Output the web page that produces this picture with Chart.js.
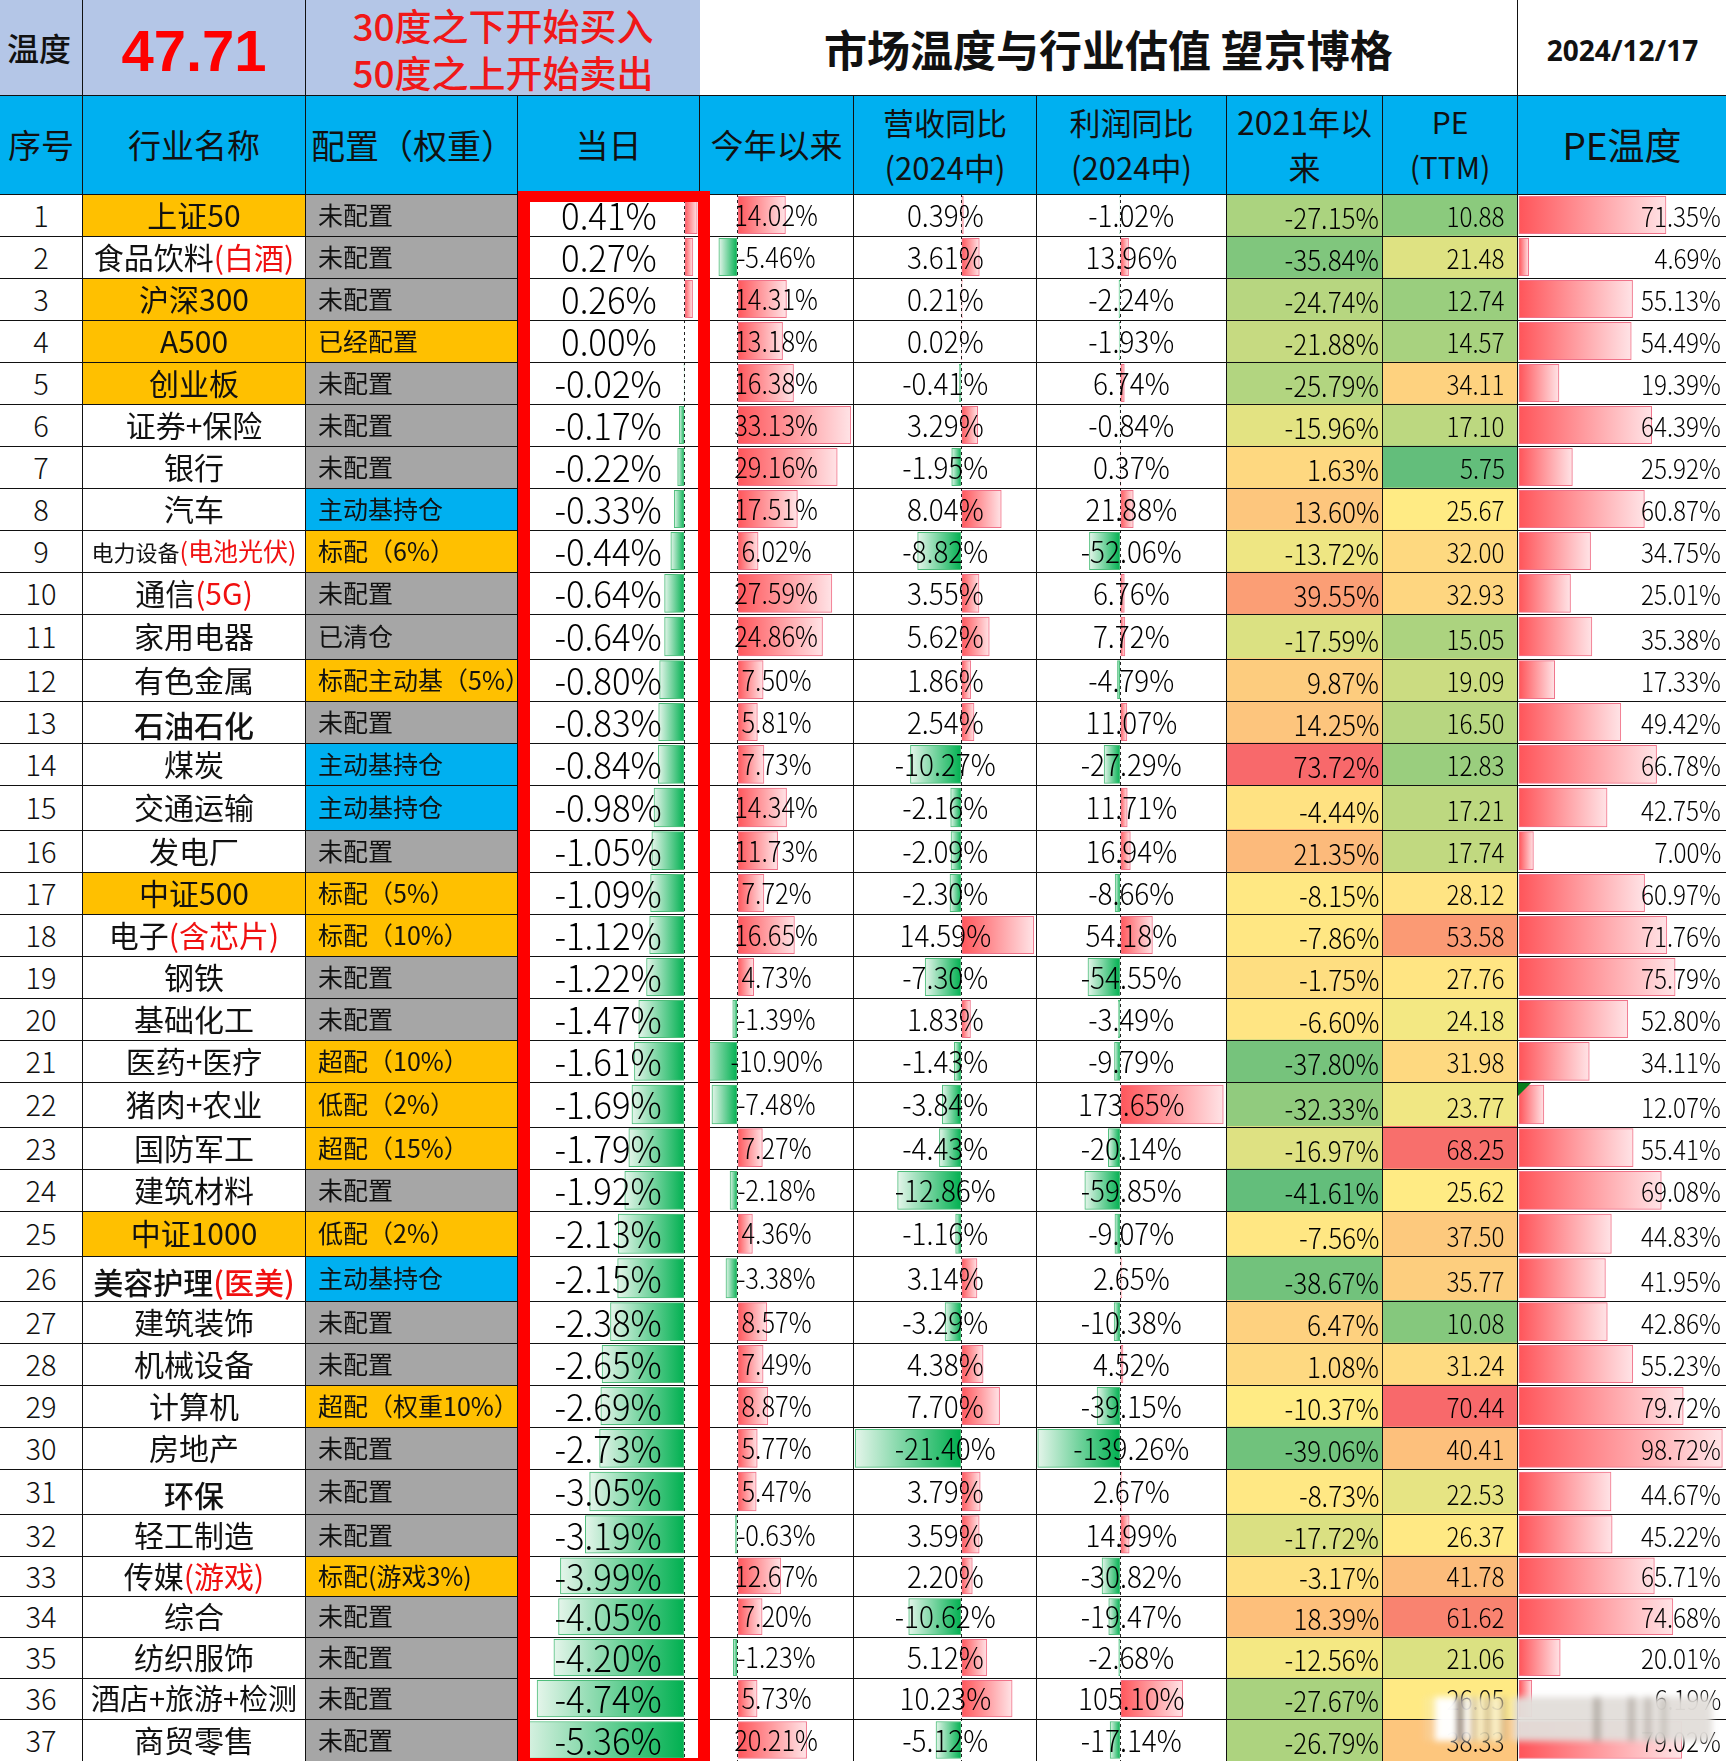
<!DOCTYPE html>
<html lang="zh"><head><meta charset="utf-8">
<script src="https://cdn.jsdelivr.net/npm/chart.js@4"></script>
<style>
html,body{margin:0;padding:0;background:#fff;width:1726px;height:1761px;overflow:hidden}
#sheet{position:relative;width:1726px;height:1761px;overflow:hidden;font-family:"Noto Sans CJK SC","Noto Sans",sans-serif;color:#111;font-weight:300}
canvas{position:absolute;z-index:1}
.c{position:absolute;z-index:2;box-sizing:border-box;display:flex;align-items:center;justify-content:center;white-space:nowrap;border-right:1px solid #111;border-bottom:1px solid #111;overflow:visible}
.num{color:#000}
.num span{display:inline-block}
.r span{transform-origin:right center}
.red{color:#f01010}
#frame{position:absolute;z-index:3;box-sizing:border-box;left:518px;top:191px;width:192px;height:1570px;border:solid #fe0000;border-width:11px 12px 3px 12px}
#mark{position:absolute;z-index:4;left:1424px;top:1697px;width:288px;height:44px;filter:blur(3px);
 background:
  linear-gradient(90deg,transparent 0 11px,rgba(255,255,255,.98) 11px 34px,rgba(60,40,30,.85) 34px 38px,rgba(255,255,255,.9) 38px 48px,rgba(150,120,70,.7) 48px 51px,rgba(250,240,200,.9) 51px 62px,rgba(150,120,70,.7) 62px 65px,rgba(250,240,200,.9) 65px 78px,rgba(150,120,70,.6) 78px 81px,transparent 81px),
  linear-gradient(90deg,transparent 0 170px,rgba(130,120,110,.55) 170px 176px,transparent 176px 205px,rgba(130,120,110,.5) 205px 210px,transparent 210px 222px,rgba(130,120,110,.5) 222px 226px,transparent 226px 238px,rgba(130,120,110,.4) 238px 242px,transparent 242px),
  linear-gradient(90deg,rgba(240,236,228,.2) 0 90px,rgba(226,222,218,.96) 90px 100%)}
#tri{position:absolute;z-index:3;left:1518px;top:1083px;width:0;height:0;border-top:13px solid #0a7d1e;border-right:13px solid transparent}
</style></head><body><div id="sheet"></div>
<script>
const rowNames=['上证50','食品饮料(白酒)','沪深300','A500','创业板','证券+保险','银行','汽车','电力设备(电池光伏)','通信(5G)','家用电器','有色金属','石油石化','煤炭','交通运输','发电厂','中证500','电子(含芯片)','钢铁','基础化工','医药+医疗','猪肉+农业','国防军工','建筑材料','中证1000','美容护理(医美)','建筑装饰','机械设备','计算机','房地产','环保','轻工制造','传媒(游戏)','综合','纺织服饰','酒店+旅游+检测','商贸零售'];
const allocation=['未配置','未配置','未配置','已经配置','未配置','未配置','未配置','主动基持仓','标配（6%）','未配置','已清仓','标配主动基（5%）','未配置','主动基持仓','主动基持仓','未配置','标配（5%）','标配（10%）','未配置','未配置','超配（10%）','低配（2%）','超配（15%）','未配置','低配（2%）','主动基持仓','未配置','未配置','超配（权重10%）','未配置','未配置','未配置','标配(游戏3%)','未配置','未配置','未配置','未配置'];
const indexFunds=['上证50','沪深300','A500','创业板','中证500','中证1000'];
const dayChange=[0.41,0.27,0.26,0.00,-0.02,-0.17,-0.22,-0.33,-0.44,-0.64,-0.64,-0.80,-0.83,-0.84,-0.98,-1.05,-1.09,-1.12,-1.22,-1.47,-1.61,-1.69,-1.79,-1.92,-2.13,-2.15,-2.38,-2.65,-2.69,-2.73,-3.05,-3.19,-3.99,-4.05,-4.20,-4.74,-5.36];
const ytdChange=[14.02,-5.46,14.31,13.18,16.38,33.13,29.16,17.51,6.02,27.59,24.86,7.50,5.81,7.73,14.34,11.73,7.72,16.65,4.73,-1.39,-10.90,-7.48,7.27,-2.18,4.36,-3.38,8.57,7.49,8.87,5.77,5.47,-0.63,12.67,7.20,-1.23,5.73,20.21];
const revenueYoY=[0.39,3.61,0.21,0.02,-0.41,3.29,-1.95,8.04,-8.82,3.55,5.62,1.86,2.54,-10.27,-2.16,-2.09,-2.30,14.59,-7.30,1.83,-1.43,-3.84,-4.43,-12.86,-1.16,3.14,-3.29,4.38,7.70,-21.40,3.79,3.59,2.20,-10.62,5.12,10.23,-5.12];
const profitYoY=[-1.02,13.96,-2.24,-1.93,6.74,-0.84,0.37,21.88,-52.06,6.76,7.72,-4.79,11.07,-27.29,11.71,16.94,-8.66,54.18,-54.55,-3.49,-9.79,173.65,-20.14,-59.85,-9.07,2.65,-10.38,4.52,-39.15,-139.26,2.67,14.99,-30.82,-19.47,-2.68,105.10,-17.14];
const since2021=[-27.15,-35.84,-24.74,-21.88,-25.79,-15.96,1.63,13.60,-13.72,39.55,-17.59,9.87,14.25,73.72,-4.44,21.35,-8.15,-7.86,-1.75,-6.60,-37.80,-32.33,-16.97,-41.61,-7.56,-38.67,6.47,1.08,-10.37,-39.06,-8.73,-17.72,-3.17,18.39,-12.56,-27.67,-26.79];
const peTTM=[10.88,21.48,12.74,14.57,34.11,17.10,5.75,25.67,32.00,32.93,15.05,19.09,16.50,12.83,17.21,17.74,28.12,53.58,27.76,24.18,31.98,23.77,68.25,25.62,37.50,35.77,10.08,31.24,70.44,40.41,22.53,26.37,41.78,61.62,21.06,26.05,38.33];
const peTemp=[71.35,4.69,55.13,54.49,19.39,64.39,25.92,60.87,34.75,25.01,35.38,17.33,49.42,66.78,42.75,7.00,60.97,71.76,75.79,52.80,34.11,12.07,55.41,69.08,44.83,41.95,42.86,55.23,79.72,98.72,44.67,45.22,65.71,74.68,20.01,6.19,79.02];
const tempValue='47.71', titleText='市场温度与行业估值 望京博格', dateText='2024/12/17';

// sheet layout (not data): column and row edges of the spreadsheet
const colEdges=[0,82,305,517,699,853,1036,1226,1382,1517,1726];
const rowEdges=[194,236,278,320,362,404,446,488,530,572,614,659,701,743,785,830,872,914,956,998,1040,1082,1127,1169,1211,1256,1301,1343,1385,1427,1469,1514,1556,1596,1637,1678,1719,1761];
const sheet=document.getElementById('sheet');
function cell(x0,y0,x1,y1,html,css){
  const d=document.createElement('div');d.className='c '+(css&&css.cls||'');
  const l=x0?x0+1:0,t=y0?y0+1:0,w=x1+1-l,h=y1+1-t;
  d.style.cssText=`left:${l}px;top:${t}px;width:${w}px;height:${h}px;`+(css&&css.s||'');
  d.innerHTML=html;sheet.appendChild(d);return d;}

// row scale: a category scale whose bands follow the sheet's row heights
class RowScale extends Chart.CategoryScale{
  getPixelForValue(v){const i=typeof v==='number'?v:this.parse(v);return this.top+(rowEdges[i]+rowEdges[i+1])/2-rowEdges[0];}
}
RowScale.id='rowScale';RowScale.defaults=Chart.CategoryScale.defaults;
Chart.register(RowScale);

function baseChart(left,right,datasets,xOpts){
  const cv=document.createElement('canvas');
  cv.width=right-left;cv.height=rowEdges[37]-rowEdges[0];
  cv.style.cssText=`left:${left}px;top:${rowEdges[0]}px;width:${right-left}px;height:${rowEdges[37]-rowEdges[0]}px`;
  sheet.appendChild(cv);
  return new Chart(cv,{type:'bar',data:{labels:rowNames,datasets},options:{
    indexAxis:'y',responsive:false,maintainAspectRatio:false,animation:false,devicePixelRatio:1,
    layout:{padding:0},plugins:{legend:{display:false},tooltip:{enabled:false}},
    scales:{x:xOpts,y:{type:'rowScale',display:false}}
  }});
}
function dataBar(left,right,zero,unit,values,axis){
  const fill=c=>{
    if(c.dataIndex===undefined||c.type!=='data')return '#ff555a';
    const x=c.chart.scales.x,v=values[c.dataIndex];
    const x0=x.getPixelForValue(0),x1=x.getPixelForValue(v);
    if(!isFinite(x0)||!isFinite(x1)||x0===x1)return '#ff555a';
    const g=c.chart.ctx.createLinearGradient(x0,0,x1,0);
    if(v<0){g.addColorStop(0,'#00b050');g.addColorStop(1,'#e4f5ea');}else{g.addColorStop(0,'#ff555a');g.addColorStop(1,'#ffe3e6');}
    return g;};
  baseChart(left,right,[{data:values,barThickness:'flex',categoryPercentage:.89,barPercentage:1,
    backgroundColor:fill,borderWidth:1,borderSkipped:false,
    borderColor:c=>values[c.dataIndex]<0?'#4fbe7c':'#f0738a'}],
   {type:'linear',min:(left-zero)/unit,max:(right-zero)/unit,
    afterBuildTicks:s=>{s.ticks=axis?[{value:0}]:[];},
    ticks:{display:false},
    grid:{display:axis,drawTicks:false,color:'#222',lineWidth:1,z:1},
    border:{display:false,dash:[3,3]}});
}
function mix(a,b,t){return 'rgb('+a.map((v,i)=>Math.round(v+(b[i]-v)*t)).join(',')+')';}
function heat(left,right,values){
  const s=[...values].sort((a,b)=>a-b),lo=s[0],mid=s[(s.length-1)/2],hi=s[s.length-1];
  const G=[99,190,123],Y=[255,235,132],R=[248,105,107];
  const col=v=>v<=mid?mix(G,Y,(v-lo)/(mid-lo)):mix(Y,R,(v-mid)/(hi-mid));
  baseChart(left,right,[{data:values.map(()=>[0,1]),barThickness:'flex',categoryPercentage:1,barPercentage:1,
    backgroundColor:values.map(col),borderWidth:0}],
   {type:'linear',min:0,max:1,display:false});
}

dataBar(518,698,684.5,31.1,dayChange,true);
dataBar(699,853,737.5,3.42,ytdChange,true);
dataBar(853,1036,961.4,4.96,revenueYoY,true);
dataBar(1036,1226,1120.3,0.593,profitYoY,true);
heat(1226,1382,since2021);
heat(1382,1517,peTTM);
dataBar(1518,1726,1519,2.06,peTemp,false);

// top band
const blue='background:#b4c6e7;';
cell(0,0,82,95,'温度',{s:blue+'font-size:32px;font-weight:500;padding:0 4px 2px 0;'});
cell(82,0,305,95,tempValue,{s:blue+'font:700 58px "Liberation Sans",sans-serif;color:#fe0000;padding-top:6px;'});
cell(305,0,699,95,'<div style="text-align:center;line-height:47px">30度之下开始买入<br>50度之上开始卖出</div>',{s:blue+'font-size:37px;font-weight:500;color:#f01818;border-right:none;padding-top:2px;'});
cell(699,0,1517,95,titleText,{s:'font-size:43px;font-weight:700;'});
cell(1517,0,1726,95,dateText,{s:'font:700 28px "Noto Sans",sans-serif;border-right:none;padding-top:4px;'});

// header row
const hdr='background:#00b0f0;font-size:33px;line-height:45px;text-align:center;font-weight:400;padding-bottom:2px;';
const heads=['序号','行业名称','配置（权重）','当日','今年以来','营收同比<br>(2024中)','利润同比<br>(2024中)','2021年以<br>来','PE<br>(TTM)','PE温度'];
heads.forEach((h,i)=>{
  let s=hdr;
  if(i===2)s+='justify-content:flex-start;padding-left:5px;font-size:34px;';
  if(i===5||i===6)s+='font-size:31px;';
  if(i===7)s+='font-size:32px;';
  if(i===8)s+='font-size:30px;';
  if(i===9)s+='font-size:37px;';
  cell(colEdges[i],95,colEdges[i+1],194,'<div>'+h+'</div>',{s});
});

// body
const pct=v=>v.toFixed(2)+'%';
const up='padding-bottom:4px;';
rowNames.forEach((name,i)=>{
  const y0=rowEdges[i],y1=rowEdges[i+1];
  cell(0,y0,82,y1,String(i+1),{s:'font-size:29px;'+up});
  let size=30;if(name.includes('电池'))size=22;if(name.includes('检测'))size=29;
  let html=name.replace(/(\(.*\))/,'<span class="red">$1</span>');
  if(name.includes('电池'))html=html.replace('class="red"','class="red" style="font-size:25px"');
  const lower=['石油石化','美容护理(医美)','环保'].includes(name);
  const bold=lower?'font-weight:500;padding-top:3px;':'font-weight:400;'+up;
  cell(82,y0,305,y1,'<div>'+html+'</div>',{s:`font-size:${size}px;${bold}`+(indexFunds.includes(name)?'background:#ffc000;':'')});
  const cfg=allocation[i];
  const bg=(cfg==='未配置'||cfg==='已清仓')?'#a6a6a6':cfg==='主动基持仓'?'#00b0f0':'#ffc000';
  cell(305,y0,517,y1,cfg,{s:`background:${bg};justify-content:flex-start;padding-left:12px;font-size:25px;font-weight:400;${up}`});
  const num=(k,v,fs,sx)=>cell(colEdges[k],y0,colEdges[k+1],y1,`<span style="transform:scaleX(${sx})">${v}</span>`,{cls:'num',s:`font-size:${fs}px;${up}`});
  // right-aligned columns sit on the bottom of the cell, as in the sheet
  const low=(k,v,fs,sx,right)=>cell(colEdges[k],y0,colEdges[k+1],y1,`<span style="transform:scaleX(${sx})">${v}</span>`,{cls:'num r',s:`font-size:${fs}px;line-height:36px;align-items:flex-end;padding-bottom:2px;justify-content:flex-end;padding-right:${right}px;`});
  num(3,pct(dayChange[i]),37,.94);
  num(4,pct(ytdChange[i]),28,.91);
  num(5,pct(revenueYoY[i]),30,.93);
  num(6,pct(profitYoY[i]),30,.93);
  low(7,pct(since2021[i]),29,.9,3);
  low(8,peTTM[i].toFixed(2),27,.9,12);
  low(9,pct(peTemp[i]),27,.9,5);
});
const f=document.createElement('div');f.id='frame';sheet.appendChild(f);
const t=document.createElement('div');t.id='tri';sheet.appendChild(t);
const m=document.createElement('div');m.id='mark';sheet.appendChild(m);
</script></body></html>
